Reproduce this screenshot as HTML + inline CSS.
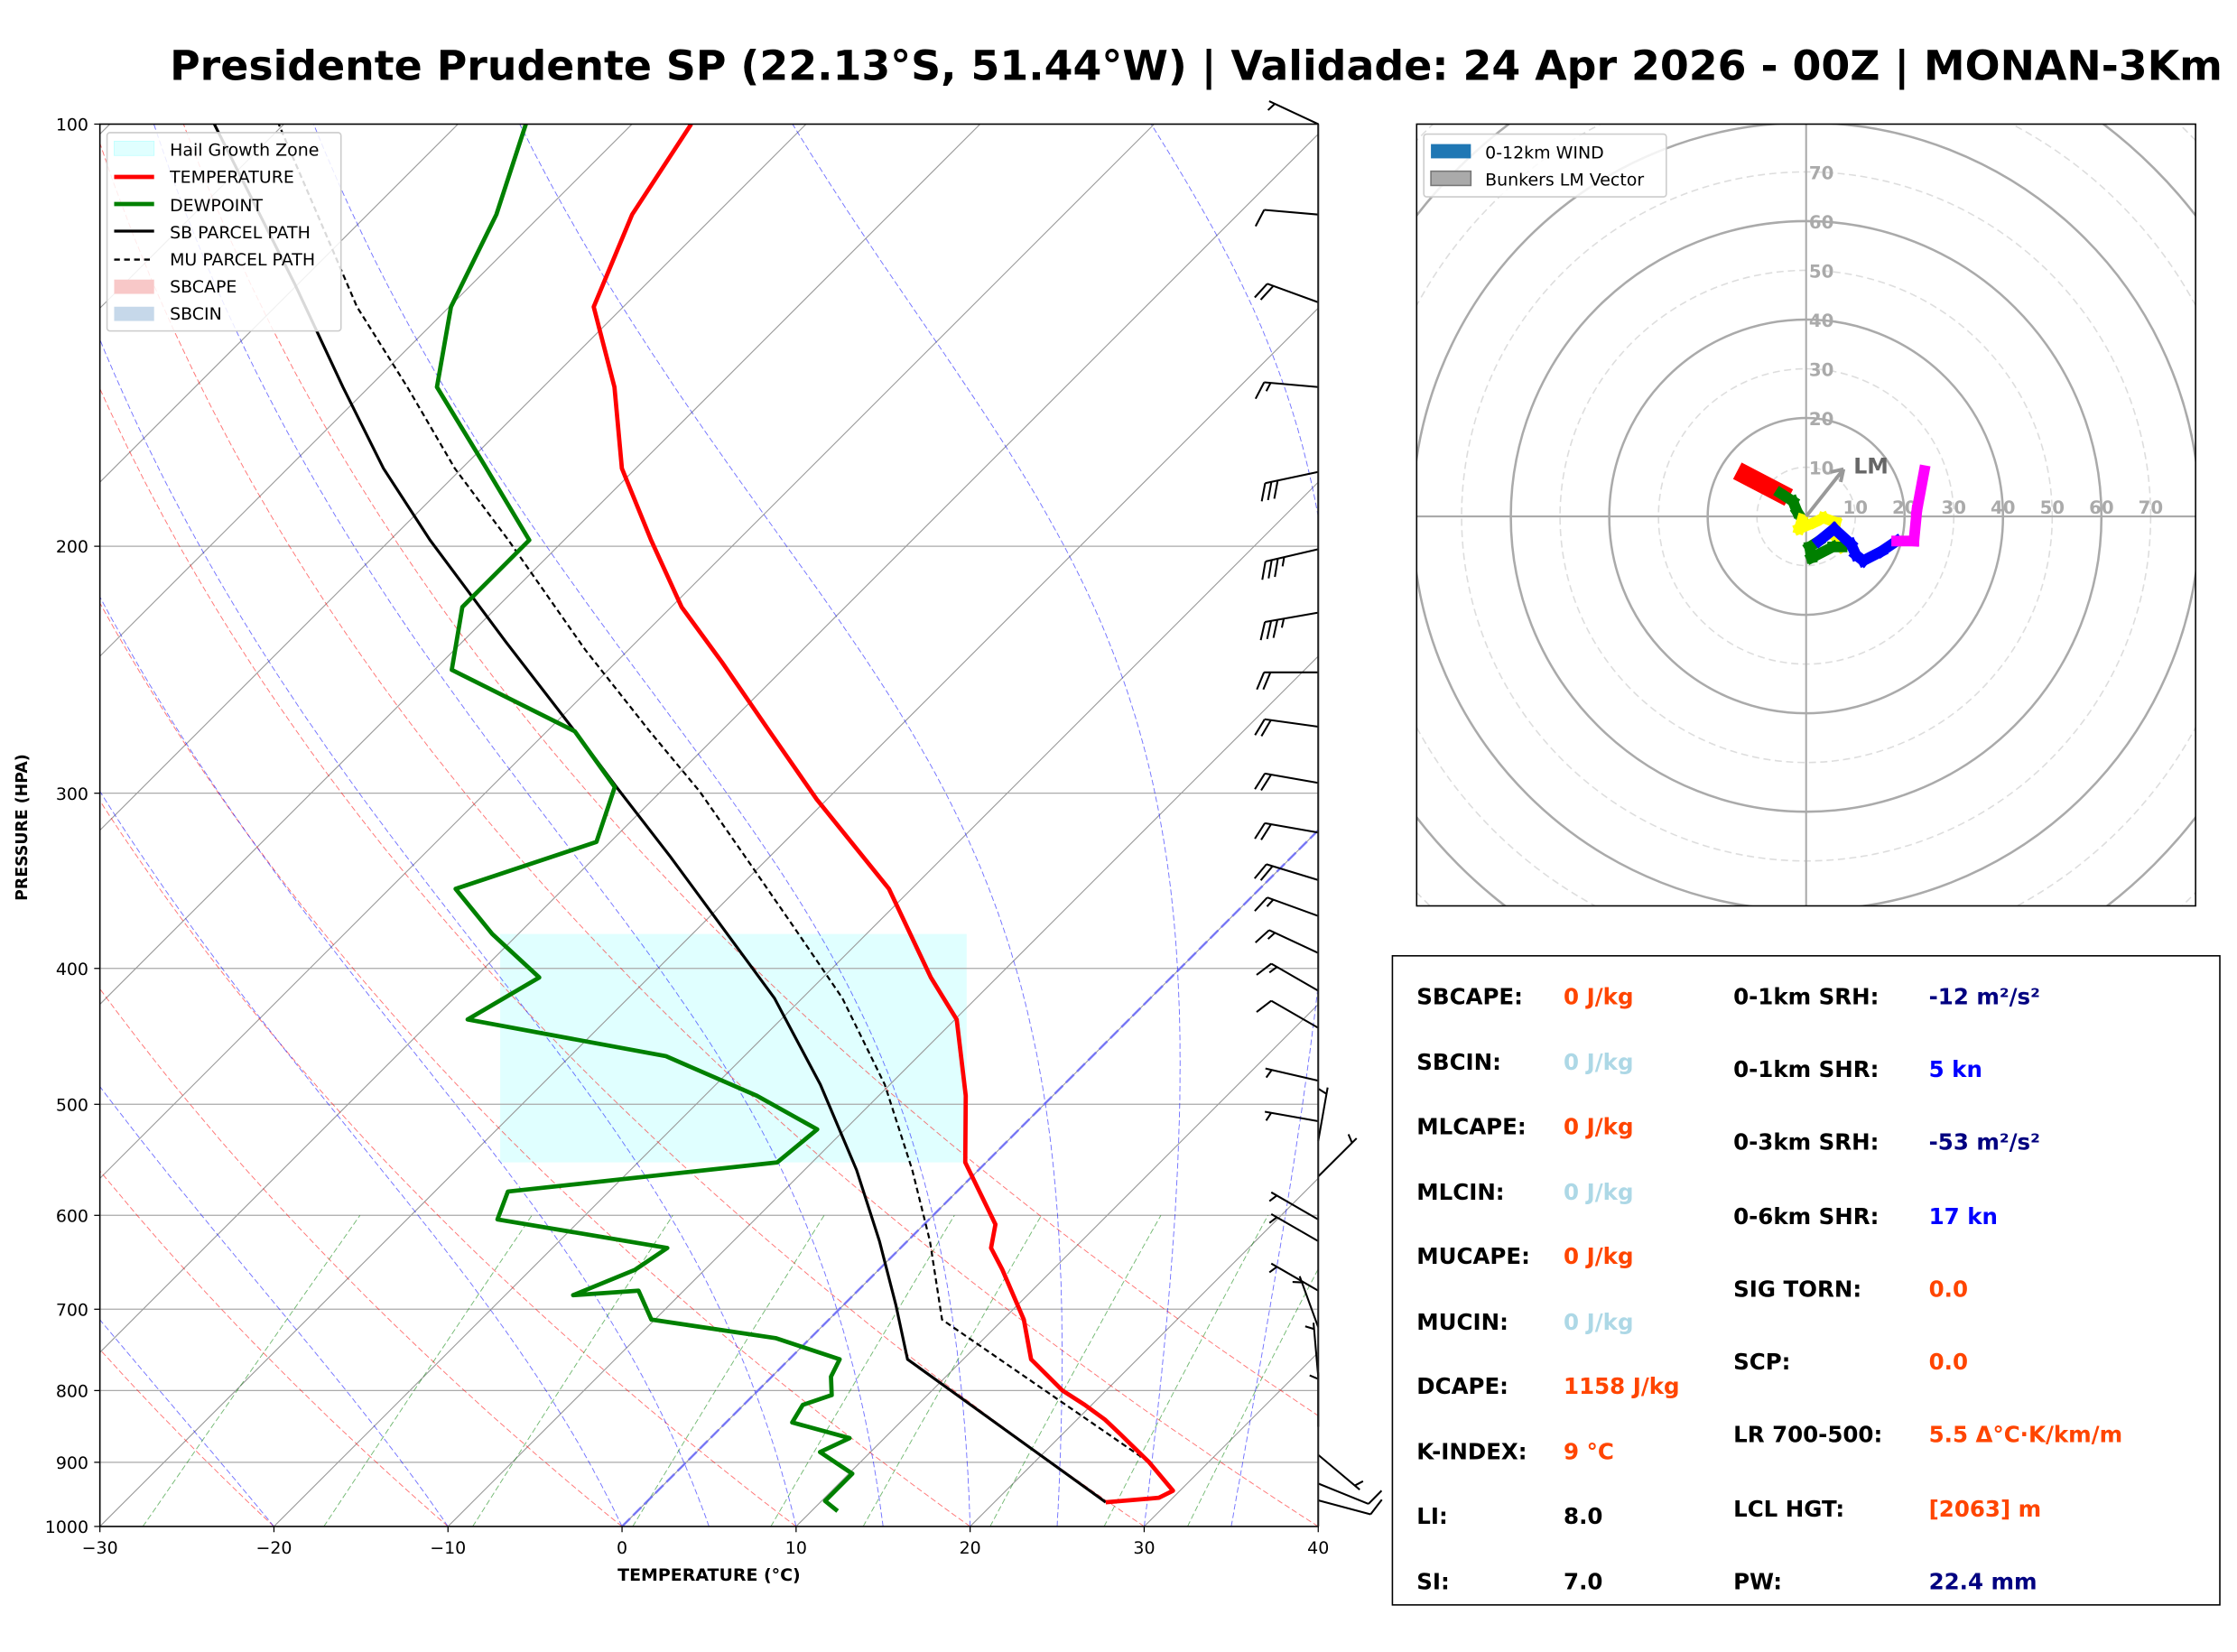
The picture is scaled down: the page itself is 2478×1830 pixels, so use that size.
<!DOCTYPE html>
<html><head><meta charset="utf-8"><style>
html,body{margin:0;padding:0;background:#fff;}
svg{display:block;font-family:"DejaVu Sans","Liberation Sans",sans-serif;}
</style></head><body>
<svg id="fig" width="2478" height="1830" viewBox="0 0 1568 1158" xmlns="http://www.w3.org/2000/svg">
<rect x="0" y="0" width="1568" height="1158" fill="#fff"/>
<text x="119" y="56" font-size="29" font-weight="bold" fill="#000">Presidente Prudente SP (22.13°S, 51.44°W) | Validade: 24 Apr 2026 - 00Z | MONAN-3Km</text>
<defs><clipPath id="plotclip"><rect x="70" y="87" width="854" height="983"/></clipPath>
<clipPath id="hodoclip"><rect x="993" y="87" width="546" height="548"/></clipPath></defs>
<g id="bg" clip-path="url(#plotclip)"></g>
<g id="marks" clip-path="url(#plotclip)"></g>
<rect x="70" y="87" width="854" height="983" fill="none" stroke="#000" stroke-width="1"/>
<g id="axes"></g>
<g id="barbs"></g>
<text x="497" y="1108" font-size="12" font-weight="bold" text-anchor="middle">TEMPERATURE (°C)</text>
<text x="0" y="0" transform="translate(19,580) rotate(-90)" font-size="11" font-weight="bold" text-anchor="middle">PRESSURE (HPA)</text>
<g>
<rect x="75" y="93" width="164" height="139" fill="#fff" fill-opacity="0.85" stroke="#ccc" stroke-width="1" rx="2"/>
<rect x="80" y="99" width="28" height="10" fill="#e0ffff" stroke="#bff" stroke-width="0.5"/>
<text x="119" y="109" font-size="12">Hail Growth Zone</text>
<line x1="80" y1="124" x2="108" y2="124" stroke="#f00" stroke-width="3"/>
<text x="119" y="128" font-size="12">TEMPERATURE</text>
<line x1="80" y1="143" x2="108" y2="143" stroke="#008000" stroke-width="3"/>
<text x="119" y="148" font-size="12">DEWPOINT</text>
<line x1="80" y1="162" x2="108" y2="162" stroke="#000" stroke-width="2"/>
<text x="119" y="167" font-size="12">SB PARCEL PATH</text>
<line x1="80" y1="182" x2="108" y2="182" stroke="#000" stroke-width="1.5" stroke-dasharray="4,3"/>
<text x="119" y="186" font-size="12">MU PARCEL PATH</text>
<rect x="80" y="196" width="28" height="10" fill="#f8c8c8"/>
<text x="119" y="205" font-size="12">SBCAPE</text>
<rect x="80" y="215" width="28" height="10" fill="#c6d8ea"/>
<text x="119" y="224" font-size="12">SBCIN</text>
</g>
<g id="hodo" clip-path="url(#hodoclip)"></g>
<rect x="993" y="87" width="546" height="548" fill="none" stroke="#000" stroke-width="1"/>
<g>
<rect x="998" y="94" width="170" height="44" fill="#fff" fill-opacity="0.85" stroke="#ccc" stroke-width="1" rx="2"/>
<rect x="1003" y="101" width="28" height="10" fill="#1f77b4"/>
<text x="1041" y="111" font-size="12">0-12km WIND</text>
<rect x="1003" y="120" width="28" height="10" fill="#aaa" stroke="#777" stroke-width="1"/>
<text x="1041" y="130" font-size="12">Bunkers LM Vector</text>
</g>
<g font-size="15.5" font-weight="bold">
<rect x="976" y="670" width="580" height="455" fill="#fff" stroke="#000" stroke-width="1"/>
<text x="993" y="704">SBCAPE:</text><text x="1096" y="704" fill="#ff4500">0 J/kg</text>
<text x="993" y="750">SBCIN:</text><text x="1096" y="750" fill="#add8e6">0 J/kg</text>
<text x="993" y="795">MLCAPE:</text><text x="1096" y="795" fill="#ff4500">0 J/kg</text>
<text x="993" y="841">MLCIN:</text><text x="1096" y="841" fill="#add8e6">0 J/kg</text>
<text x="993" y="886">MUCAPE:</text><text x="1096" y="886" fill="#ff4500">0 J/kg</text>
<text x="993" y="932">MUCIN:</text><text x="1096" y="932" fill="#add8e6">0 J/kg</text>
<text x="993" y="977">DCAPE:</text><text x="1096" y="977" fill="#ff4500">1158 J/kg</text>
<text x="993" y="1023">K-INDEX:</text><text x="1096" y="1023" fill="#ff4500">9 °C</text>
<text x="993" y="1068">LI:</text><text x="1096" y="1068" fill="#000">8.0</text>
<text x="993" y="1114">SI:</text><text x="1096" y="1114" fill="#000">7.0</text>
<text x="1215" y="704">0-1km SRH:</text><text x="1352" y="704" fill="#000080">-12 m²/s²</text>
<text x="1215" y="755">0-1km SHR:</text><text x="1352" y="755" fill="#0000ff">5 kn</text>
<text x="1215" y="806">0-3km SRH:</text><text x="1352" y="806" fill="#000080">-53 m²/s²</text>
<text x="1215" y="858">0-6km SHR:</text><text x="1352" y="858" fill="#0000ff">17 kn</text>
<text x="1215" y="909">SIG TORN:</text><text x="1352" y="909" fill="#ff4500">0.0</text>
<text x="1215" y="960">SCP:</text><text x="1352" y="960" fill="#ff4500">0.0</text>
<text x="1215" y="1011">LR 700-500:</text><text x="1352" y="1011" fill="#ff4500">5.5 Δ°C·K/km/m</text>
<text x="1215" y="1063">LCL HGT:</text><text x="1352" y="1063" fill="#ff4500">[2063] m</text>
<text x="1215" y="1114">PW:</text><text x="1352" y="1114" fill="#000080">22.4 mm</text>
</g>
</svg>
<script>
// ---- profile data (pressure hPa, temperature °C) ----
const tempP = [961,954,943,900,859,839,819,800,760,712,656,633,609,550,493,435,406,351,303,272,242,221,198,176,154,135,116,100];
const tempT = [26.4,29.2,29.6,26.6,23.3,21.6,19.6,17.5,13.9,11.2,7.1,5.2,4.1,-1.2,-5,-9.9,-13.8,-21.3,-30.6,-37,-43.9,-49.4,-55,-60.8,-65.9,-71.7,-74.8,-76.6];
const dewP = [975,959,917,885,865,843,819,806,782,760,734,712,679,684,656,633,604,577,550,521,493,462,435,406,378,351,325,297,271,245,221,198,175,154,135,116,100];
const dewT = [11.5,10.2,10.2,7.1,8,3.8,3.4,4.5,3.4,2.9,-2,-10.2,-12.6,-16.1,-14,-13.4,-24.8,-25.8,-12,-11.6,-17,-24.5,-38,-36.3,-41.5,-46.2,-40.8,-42.9,-48.4,-59,-62,-62,-68.9,-76.1,-79.9,-82.6,-86.1];
const sbP = [961,760,695,626,557,484,420,378,333,297,271,234,198,176,154,130,100];
const sbT = [26.4,6.8,3,-1.6,-7,-14,-21.6,-28,-35.7,-42.8,-48.4,-57.5,-67.7,-74.5,-81.5,-90.2,-104];
const muP = [900,712,626,557,484,420,378,333,299,271,237,198,176,154,135,100];
const muT = [26.6,6.5,1.3,-3.8,-10.3,-17.7,-23.9,-31.4,-37.8,-44.1,-52.5,-63.2,-70.4,-77.8,-85.3,-100.3];
const hailP = [378,550];
const hailT = [-7,19.8]; // base-axis temperatures bounding zone
// wind barbs
const barbP = [100,116,134,154,177,201,223,246,269,295,320,346,367,390,415,441,481,514,531,563,604,626,679,721,782,849,889,932,958];
const barbDir = [295,275,290,275,258,257,260,270,278,280,280,287,290,295,300,300,283,280,10,45,300,300,300,340,355,0,130,112,105];
const barbSpd = [5,10,20,15,30,35,35,20,20,20,20,20,15,15,15,10,5,5,5,5,5,5,5,5,5,5,5,10,10];
// hodograph (knots)
const hodoU = [-12.3,-5.2,-2.7,-1.8,-0.8,-1.4,1.7,3.5,6,5.7,7.3,5.4,1.1,0.7,2.6,5.7,9.1,10.1,11.6,15.3,18.4,21.9,22.5,24];
const hodoV = [8.4,4.7,3.1,0.9,-0.6,-2.5,-1.2,-0.3,-1.2,-3.7,-6.2,-6.2,-8.4,-6.2,-5,-2.5,-5.6,-7.8,-9,-7.1,-5,-5,1.2,9.3];
const hodoLayer = [0,0,1,1,1,2,2,2,2,2,2,3,3,3,3,4,4,4,4,4,4,5,5,5];
const lmU = 7.6, lmV = 9.6;
const xTicks = [-30,-20,-10,0,10,20,30,40];
const yTicks = [100,200,300,400,500,600,700,800,900,1000];
const dryT0 = [-30,-20,-10,0,10,20,30,40,50];
const moistT0 = [-30,-20,-10,0,5,10,15,20,25,30,35];
const mixW = [0.0004,0.001,0.002,0.004,0.007,0.01,0.016,0.024,0.032];

const NS='http://www.w3.org/2000/svg';
function mk(tag, attrs, parent){const e=document.createElementNS(NS,tag);for(const k in attrs)e.setAttribute(k,attrs[k]);parent.appendChild(e);return e;}
function yP(p){return 1070-Math.log10(1000/p)*983;}
function xT(T,p){return 70+(T+30)*12.2+(1070-yP(p));}
function pathPT(P,T){return P.map((p,i)=>(i?'L':'M')+xT(T[i],p).toFixed(2)+','+yP(p).toFixed(2)).join('');}
const bg=document.getElementById('bg'), marks=document.getElementById('marks'), axes=document.getElementById('axes');

// hail zone
let hz=mk('rect',{x:xT(hailT[0],1000),y:yP(hailP[0]),width:xT(hailT[1],1000)-xT(hailT[0],1000),height:yP(hailP[1])-yP(hailP[0]),fill:'#e0ffff'},bg);


// isobars
yTicks.forEach(p=>{mk('line',{x1:70,x2:924,y1:yP(p),y2:yP(p),stroke:'#aaa','stroke-width':0.8},bg);});
// isotherms
for(let t=-130;t<=40;t+=10){mk('line',{x1:xT(t,1000),y1:yP(1000),x2:xT(t,100),y2:yP(100),stroke:'#999','stroke-width':0.7},bg);}
// dry adiabats
dryT0.forEach(t0=>{const th=t0+273.15;let d='';for(let p=1000;p>=100;p-=10){const T=th*Math.pow(p/1000,0.2857)-273.15;d+=(p==1000?'M':'L')+xT(T,p).toFixed(1)+','+yP(p).toFixed(1);}mk('path',{d:d,fill:'none',stroke:'#f00','stroke-opacity':0.55,'stroke-width':0.6,'stroke-dasharray':'4,2'},bg);});
// moist adiabats
function es(Tc){return 6.112*Math.exp(17.67*Tc/(Tc+243.5));}
moistT0.forEach(t0=>{let T=t0+273.15;let d='M'+xT(t0,1000).toFixed(1)+','+yP(1000).toFixed(1);for(let p=1000;p>100;p-=5){const e=es(T-273.15);const rs=0.622*e/(p-e);const dTdp=(287*T+2.5e6*rs)/(1004+2.5e6*2.5e6*rs*0.622/(287*T*T))/p;T-=dTdp*5;d+='L'+xT(T-273.15,p-5).toFixed(1)+','+yP(p-5).toFixed(1);}mk('path',{d:d,fill:'none',stroke:'#00f','stroke-opacity':0.55,'stroke-width':0.6,'stroke-dasharray':'4,2'},bg);});
// mixing ratio
mixW.forEach(w=>{let d='';for(let p=1000;p>=600;p-=20){const e=w*p/(0.622+w);const l=Math.log(e/6.112);const Td=243.5*l/(17.67-l);d+=(p==1000?'M':'L')+xT(Td,p).toFixed(1)+','+yP(p).toFixed(1);}mk('path',{d:d,fill:'none',stroke:'#008000','stroke-opacity':0.55,'stroke-width':0.6,'stroke-dasharray':'4,2'},bg);});
// 0C isotherm
mk('line',{x1:xT(0,1000),y1:yP(1000),x2:xT(0,100),y2:yP(100),stroke:'#66f','stroke-opacity':0.8,'stroke-width':1.6,'stroke-dasharray':'8,3'},bg);

// profiles
let e;
e=mk('path',{d:pathPT(muP,muT),fill:'none',stroke:'#000','stroke-width':1.4,'stroke-dasharray':'4,2.5'},marks);


e=mk('path',{d:pathPT(sbP,sbT),fill:'none',stroke:'#000','stroke-width':2},marks);


e=mk('path',{d:pathPT(dewP,dewT),fill:'none',stroke:'#008000','stroke-width':3,'stroke-linejoin':'round'},marks);


e=mk('path',{d:pathPT(tempP,tempT),fill:'none',stroke:'#f00','stroke-width':3,'stroke-linejoin':'round'},marks);



// axes ticks
xTicks.forEach(t=>{const x=70+(t+30)*12.2;mk('line',{x1:x,x2:x,y1:1070,y2:1074,stroke:'#000','stroke-width':0.8},axes);const tx=mk('text',{x:x,y:1089,'font-size':12,'text-anchor':'middle'},axes);tx.textContent=(t<0?'\u2212'+(-t):t);});
yTicks.forEach(p=>{mk('line',{x1:66,x2:70,y1:yP(p),y2:yP(p),stroke:'#000','stroke-width':0.8},axes);const tx=mk('text',{x:62,y:yP(p)+4.5,'font-size':12,'text-anchor':'end'},axes);tx.textContent=p;});

// barbs
const bg2=document.getElementById('barbs');
barbP.forEach((p,i)=>{const y=yP(p),x=924,L=38;const a=barbDir[i]*Math.PI/180;const sx=Math.sin(a),sy=-Math.cos(a);const nx=sy,ny=-sx;
 const ex=x+sx*L,ey=y+sy*L;let d='M'+x+','+y.toFixed(1)+'L'+ex.toFixed(1)+','+ey.toFixed(1);
 let s=barbSpd[i];let pos=0;const full=Math.floor(s/10),half=(s%10)>=5?1:0;
 for(let k=0;k<full;k++){const bx=ex-sx*pos,by=ey-sy*pos;d+='M'+bx.toFixed(1)+','+by.toFixed(1)+'L'+(bx+nx*12+sx*5).toFixed(1)+','+(by+ny*12+sy*5).toFixed(1);pos+=4.5;}
 if(half){if(full==0)pos=4.5;const bx=ex-sx*pos,by=ey-sy*pos;d+='M'+bx.toFixed(1)+','+by.toFixed(1)+'L'+(bx+nx*6+sx*2.5).toFixed(1)+','+(by+ny*6+sy*2.5).toFixed(1);}
 const b=mk('path',{d:d,fill:'none',stroke:'#000','stroke-width':1.3},bg2);
 
 
});
mk('line',{x1:924,y1:87,x2:924,y2:1070,stroke:'#222','stroke-width':1.3},bg2);

// hodograph
const hodo=document.getElementById('hodo');const cx=1266,cy=362,k=3.45;
for(let r=10;r<=110;r+=10){mk('circle',{cx:cx,cy:cy,r:r*k,fill:'none',stroke:(r%20==0)?'#aaa':'#ddd','stroke-width':(r%20==0)?1.6:1,'stroke-dasharray':(r%20==0)?'none':'5,3'},hodo);}
mk('line',{x1:993,x2:1539,y1:cy,y2:cy,stroke:'#aaa','stroke-width':1.3},hodo);
mk('line',{x1:cx,x2:cx,y1:87,y2:635,stroke:'#aaa','stroke-width':1.3},hodo);
for(let r=10;r<=70;r+=10){let t=mk('text',{x:cx+r*k,y:cy-2,'font-size':12.5,'font-weight':'bold',fill:'#aaa','text-anchor':'middle'},hodo);t.textContent=r;t=mk('text',{x:cx+2,y:cy-r*k+5,'font-size':12.5,'font-weight':'bold',fill:'#aaa'},hodo);t.textContent=r;}
const cols=['#f00','#008000','#ff0','#008000','#00f','#f0f'];
for(let i=0;i<hodoU.length-1;i++){const c=cols[hodoLayer[i+1]];const w=hodoLayer[i+1]==0?(13-i*4):7.5;
 const s=mk('line',{x1:cx+hodoU[i]*k,y1:cy-hodoV[i]*k,x2:cx+hodoU[i+1]*k,y2:cy-hodoV[i+1]*k,stroke:c,'stroke-width':Math.max(w,7.5),'stroke-linecap':'square'},hodo);
 
 }
const ax=cx+lmU*k,ay=cy-lmV*k;
const lm=mk('path',{d:`M${cx},${cy}L${ax},${ay}M${ax},${ay}l-9,2 M${ax},${ay}l-2,9`,stroke:'#999','stroke-width':2.5,fill:'none'},hodo);


const lt=mk('text',{x:ax+7,y:ay+3,'font-size':15,'font-weight':'bold',fill:'#666'},hodo);lt.textContent='LM';
</script>
</body></html>
